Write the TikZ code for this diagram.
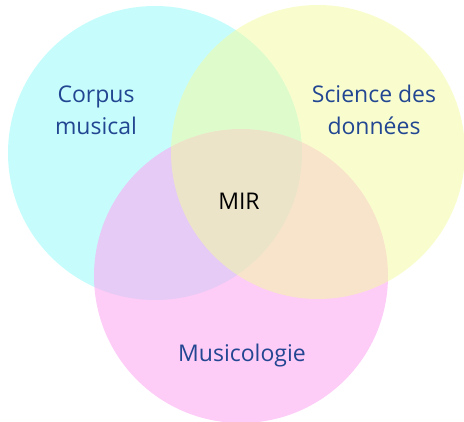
\documentclass[tikz,border=0pt]{standalone}
\usepackage{fontspec}
\setmainfont{Open Sans}
\usepackage{tikz}

\definecolor{setCyan}{RGB}{198,253,252}
\definecolor{setYellow}{RGB}{244,251,163}
\definecolor{setPink}{RGB}{252,167,241}
\definecolor{labelBlue}{RGB}{34,70,145}

\begin{document}
\begin{tikzpicture}[
	x=1pt, y=-1pt,
	setCircle/.style={circle, minimum size=294pt, inner sep=0pt},
	setLabel/.style={labelBlue, align=center, anchor=base, font=\fontsize{23}{32}\selectfont}
	]
	
	\useasboundingbox (0,0) rectangle (464,422);
	
	% les trois ensembles
	\node[setCircle, fill=setCyan] (corpus) at (155,153) {};
	\node[setCircle, fill=setPink, fill opacity=.58] (musico) at (241,276) {};
	\node[setCircle, fill=setYellow, fill opacity=.53] (donnees) at (318,152) {};
	
	% textes
	\node[setLabel] (tCorpus) at (96,135) {Corpus\\musical};
	\node[setLabel] (tDonnees) at (374,135) {Science des\\données};
	\node[setLabel] (tMusico) at (242,362) {Musicologie};
	\node[setLabel, black] (tMir) at (239,210) {MIR};
	
\end{tikzpicture}
\end{document}
